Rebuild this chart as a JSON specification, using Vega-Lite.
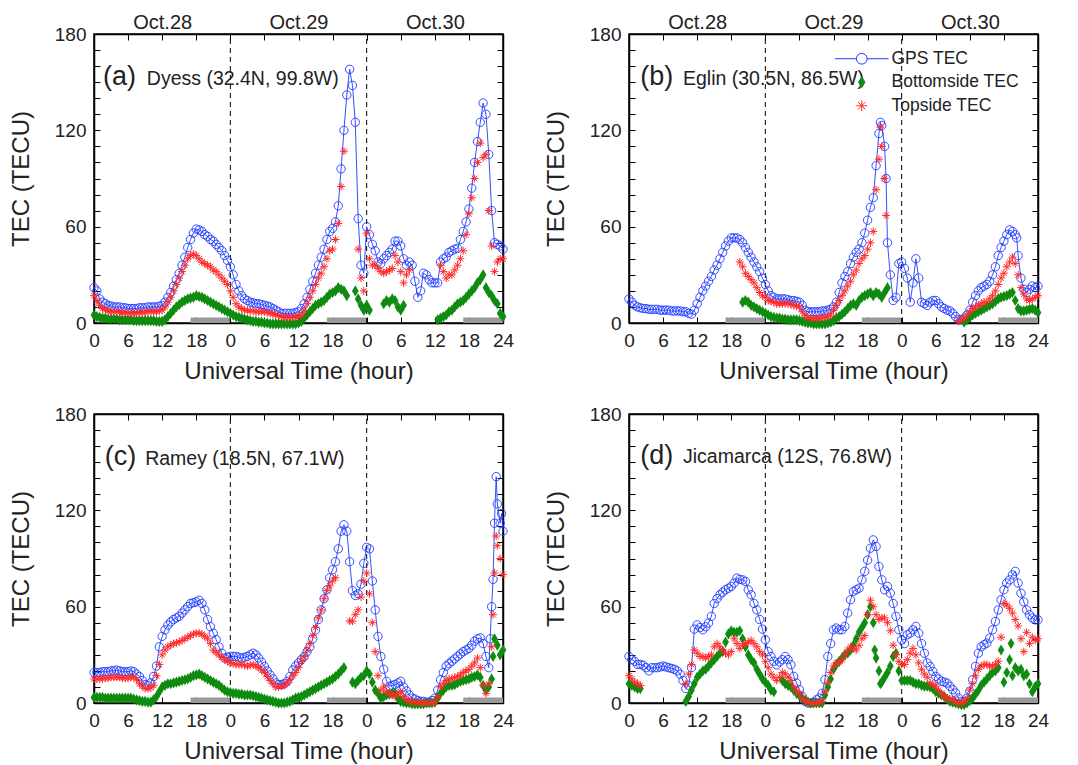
{
"$schema":"https://vega.github.io/schema/vega-lite/v6.json",
"padding":{"left":8,"top":11,"right":5,"bottom":3},
"bounds":"flush",
"columns":2,
"spacing":{"row":91,"column":126},
"config":{
 "font":"Liberation Sans",
 "view":{"stroke":"black","strokeWidth":1.5},
 "axis":{"labelFont":"Liberation Sans","labelFontSize":19,"labelColor":"#222","titleFont":"Liberation Sans","titleFontSize":24,"titleFontWeight":"normal","titleColor":"#222","tickColor":"black","domainColor":"black","domainWidth":1.5,"tickWidth":1,"tickSize":-6,"labelPadding":14,"grid":false,"labelFlush":false,"labelOverlap":false,"labelBound":false}
},
"resolve":{"legend":{"shape":"independent","fill":"independent","stroke":"independent"}},
"datasets":{
"night":[{"s":17,"e":24},{"s":41,"e":48},{"s":65,"e":72}],
"dash":[{"x":24},{"x":48}],
"A":[
{"t":0,"g":22,"b":5,"r":17},{"t":0.5,"g":20,"b":4,"r":14},{"t":1,"g":15,"b":3.5,"r":11},{"t":1.5,"g":13,"b":3,"r":9},{"t":2,"g":12,"b":3,"r":8},{"t":2.5,"g":11,"b":2.5,"r":7.5},{"t":3,"g":10.5,"b":2.5,"r":7},{"t":3.5,"g":10,"b":2.5,"r":7},{"t":4,"g":10,"b":2.5,"r":7},{"t":4.5,"g":10,"b":2,"r":6.5},{"t":5,"g":9.5,"b":2,"r":6.5},{"t":5.5,"g":9.5,"b":2,"r":6.5},{"t":6,"g":9,"b":2,"r":6},{"t":6.5,"g":9,"b":2,"r":6},{"t":7,"g":9,"b":1.5,"r":6},{"t":7.5,"g":9,"b":1.5,"r":6},{"t":8,"g":9.5,"b":1.5,"r":6.5},{"t":8.5,"g":9.5,"b":1.5,"r":6.5},{"t":9,"g":9.5,"b":1.5,"r":6.5},{"t":9.5,"g":10,"b":1.5,"r":7},{"t":10,"g":10,"b":1.5,"r":7},{"t":10.5,"g":10,"b":1.5,"r":7},{"t":11,"g":10,"b":1,"r":7},{"t":11.5,"g":10.5,"b":1,"r":7.5},
{"t":12,"g":11,"b":1,"r":8},{"t":12.5,"g":13,"b":2,"r":10},{"t":13,"g":16,"b":4,"r":13},{"t":13.5,"g":19,"b":6,"r":16},{"t":14,"g":23,"b":8,"r":20},{"t":14.5,"g":27,"b":10,"r":24},{"t":15,"g":31,"b":11.5,"r":28},{"t":15.5,"g":36,"b":13,"r":32},{"t":16,"g":41,"b":14,"r":36},{"t":16.5,"g":47,"b":15,"r":40},{"t":17,"g":52,"b":15.5,"r":42},{"t":17.5,"g":56,"b":16,"r":43},{"t":18,"g":58.5,"b":17,"r":42},{"t":18.5,"g":58,"b":16.5,"r":40},{"t":19,"g":57,"b":16,"r":38},{"t":19.5,"g":55,"b":15,"r":37},{"t":20,"g":54,"b":14,"r":36},{"t":20.5,"g":52,"b":13,"r":35},{"t":21,"g":51,"b":12,"r":33},{"t":21.5,"g":49,"b":11,"r":32},{"t":22,"g":47,"b":10,"r":30},{"t":22.5,"g":45,"b":9,"r":28},{"t":23,"g":42,"b":8,"r":26},{"t":23.5,"g":39,"b":7,"r":24},
{"t":24,"g":35,"b":6,"r":20},{"t":24.5,"g":30,"b":5,"r":16},{"t":25,"g":24,"b":4,"r":12},{"t":25.5,"g":20,"b":3.5,"r":10},{"t":26,"g":17,"b":3,"r":9},{"t":26.5,"g":15,"b":2.5,"r":8},{"t":27,"g":14,"b":2,"r":8},{"t":27.5,"g":13,"b":1.5,"r":7.5},{"t":28,"g":12.5,"b":1,"r":7.5},{"t":28.5,"g":12,"b":1,"r":7},{"t":29,"g":12,"b":0.5,"r":7},{"t":29.5,"g":11.5,"b":0.5,"r":7},{"t":30,"g":11,"b":0,"r":7},{"t":30.5,"g":10.5,"b":0,"r":6.5},{"t":31,"g":10,"b":-0.5,"r":6},{"t":31.5,"g":9,"b":-0.5,"r":5.5},{"t":32,"g":8,"b":-0.5,"r":5},{"t":32.5,"g":7,"b":-0.5,"r":4.5},{"t":33,"g":6,"b":-0.5,"r":4},{"t":33.5,"g":6,"b":-0.5,"r":3.5},{"t":34,"g":6,"b":-0.5,"r":3.5},{"t":34.5,"g":6,"b":-0.5,"r":3.5},{"t":35,"g":6,"b":-0.5,"r":3.5},{"t":35.5,"g":6.5,"b":-0.5,"r":4},
{"t":36,"g":7,"b":0,"r":4},{"t":36.5,"g":9,"b":1,"r":5},{"t":37,"g":12,"b":3,"r":8},{"t":37.5,"g":16,"b":5,"r":12},{"t":38,"g":21,"b":7,"r":16},{"t":38.5,"g":26,"b":9,"r":20},{"t":39,"g":31,"b":11,"r":24},{"t":39.5,"g":36,"b":12,"r":28},{"t":40,"g":41,"b":13,"r":31},{"t":40.5,"g":46,"b":14,"r":35},{"t":41,"g":52,"b":16,"r":40},{"t":41.5,"g":57,"b":18,"r":45},{"t":42,"g":59,"b":19,"r":46},{"t":42.5,"g":63,"b":20,"r":52},{"t":43,"g":73,"b":22,"r":62},{"t":43.5,"g":96,"b":21,"r":85},{"t":44,"g":120,"b":20,"r":107},{"t":44.5,"g":142,"b":17},{"t":45,"g":158},{"t":45.5,"g":148},{"t":46,"g":125,"b":20},{"t":46.5,"g":65,"b":15,"r":46},{"t":47,"g":36,"b":11,"r":28},{"t":47.5,"g":31,"b":8,"r":20},
{"t":48,"g":60,"b":11,"r":56},{"t":48.5,"g":55,"b":8,"r":40},{"t":49,"g":49,"r":36},{"t":49.5,"g":45,"r":36},{"t":50,"g":38,"r":34},{"t":50.5,"g":37,"r":32},{"t":51,"g":40,"b":12,"r":31},{"t":51.5,"g":42,"b":14,"r":32},{"t":52,"g":44,"b":13,"r":33},{"t":52.5,"g":46,"b":15,"r":34},{"t":53,"g":51,"b":14,"r":42},{"t":53.5,"g":51,"b":10,"r":38},{"t":54,"g":48,"b":8,"r":32},{"t":54.5,"g":40,"b":11,"r":25},{"t":55,"g":36,"r":30},{"t":55.5,"g":38,"r":33},{"t":56,"g":36},{"t":56.5,"g":26},{"t":57,"g":16},{"t":57.5,"g":20},{"t":58,"g":31},{"t":58.5,"g":30},{"t":59,"g":27},{"t":59.5,"g":25},
{"t":60,"g":25},{"t":60.5,"g":25,"b":2},{"t":61,"g":38,"b":3,"r":36},{"t":61.5,"g":40,"b":4,"r":32},{"t":62,"g":41,"b":5,"r":28},{"t":62.5,"g":44,"b":7,"r":30},{"t":63,"g":45,"b":8,"r":30},{"t":63.5,"g":46,"b":10,"r":33},{"t":64,"g":46.5,"b":12,"r":36},{"t":64.5,"g":52,"b":13,"r":40},{"t":65,"g":57,"b":14,"r":45},{"t":65.5,"g":63,"b":16,"r":55},{"t":66,"g":71,"b":18,"r":68},{"t":66.5,"g":84,"b":20,"r":78},{"t":67,"g":100,"b":22,"r":90},{"t":67.5,"g":113,"b":25,"r":100},{"t":68,"g":125,"b":27,"r":112},{"t":68.5,"g":137,"b":30,"r":103},{"t":69,"g":130,"b":22,"r":105},{"t":69.5,"g":105,"b":19,"r":70},{"t":70,"g":70,"b":17,"r":48},{"t":70.5,"g":50,"b":14,"r":32},{"t":71,"g":49,"b":12,"r":38},{"t":71.5,"g":48,"b":6,"r":40},{"t":72,"g":46,"b":4,"r":40}
],
"B":[
{"t":0,"g":15},{"t":0.5,"g":13},{"t":1,"g":11},{"t":1.5,"g":10},{"t":2,"g":9.5},{"t":2.5,"g":9},{"t":3,"g":9},{"t":3.5,"g":8.5},{"t":4,"g":8.5},{"t":4.5,"g":8.5},{"t":5,"g":8.5},{"t":5.5,"g":8},{"t":6,"g":8},{"t":6.5,"g":8},{"t":7,"g":8},{"t":7.5,"g":7.5},{"t":8,"g":7.5},{"t":8.5,"g":7.5},{"t":9,"g":7.5},{"t":9.5,"g":7},{"t":10,"g":7},{"t":10.5,"g":6},{"t":11,"g":5.5},{"t":11.5,"g":8},
{"t":12,"g":12},{"t":12.5,"g":16},{"t":13,"g":20},{"t":13.5,"g":23},{"t":14,"g":26},{"t":14.5,"g":29},{"t":15,"g":33},{"t":15.5,"g":36},{"t":16,"g":40},{"t":16.5,"g":44},{"t":17,"g":48},{"t":17.5,"g":51},{"t":18,"g":53},{"t":18.5,"g":53},{"t":19,"g":53},{"t":19.5,"g":52,"r":38},{"t":20,"g":50,"b":13,"r":35},{"t":20.5,"g":47,"b":14,"r":31},{"t":21,"g":44,"b":13,"r":29},{"t":21.5,"g":41,"b":11,"r":27},{"t":22,"g":38,"b":10,"r":25},{"t":22.5,"g":35,"b":9,"r":22},{"t":23,"g":32,"b":8,"r":19},{"t":23.5,"g":28,"b":7,"r":17},
{"t":24,"g":24,"b":6,"r":16},{"t":24.5,"g":20,"b":5,"r":14},{"t":25,"g":17,"b":4,"r":13.5},{"t":25.5,"g":16,"b":3.5,"r":13},{"t":26,"g":15,"b":3,"r":12},{"t":26.5,"g":15,"b":3,"r":12},{"t":27,"g":15,"b":2.5,"r":12},{"t":27.5,"g":15,"b":2.5,"r":12},{"t":28,"g":14.5,"b":2,"r":12},{"t":28.5,"g":14,"b":2,"r":11.5},{"t":29,"g":14,"b":2,"r":11},{"t":29.5,"g":13.5,"b":2,"r":10.5},{"t":30,"g":13,"b":1.5,"r":10},{"t":30.5,"g":11,"b":1,"r":7},{"t":31,"g":8,"b":0.5,"r":4.5},{"t":31.5,"g":7,"b":0,"r":3.5},{"t":32,"g":7,"b":0,"r":3},{"t":32.5,"g":7,"b":-0.5,"r":3},{"t":33,"g":7,"b":-0.5,"r":3},{"t":33.5,"g":7,"b":-0.5,"r":3},{"t":34,"g":7.5,"b":-0.5,"r":3.5},{"t":34.5,"g":7.5,"b":-0.5,"r":3.5},{"t":35,"g":8,"b":0,"r":4},{"t":35.5,"g":8.5,"b":0.5,"r":5},
{"t":36,"g":10,"b":1.5,"r":8},{"t":36.5,"g":13,"b":3,"r":11},{"t":37,"g":19,"b":4,"r":14},{"t":37.5,"g":25,"b":5.5,"r":17},{"t":38,"g":29,"b":7,"r":20},{"t":38.5,"g":32,"b":9,"r":23},{"t":39,"g":37,"b":11,"r":26},{"t":39.5,"g":41,"b":12,"r":30},{"t":40,"g":44,"b":11,"r":33},{"t":40.5,"g":46,"b":14,"r":37},{"t":41,"g":50,"b":16,"r":40},{"t":41.5,"g":56,"b":17,"r":42},{"t":42,"g":64,"b":18,"r":46},{"t":42.5,"g":72,"b":19,"r":50},{"t":43,"g":78,"b":17,"r":57},{"t":43.5,"g":98,"b":19,"r":83},{"t":44,"g":118,"b":18,"r":102},{"t":44.25,"g":125,"r":122},{"t":44.5,"g":123,"b":16,"r":110},{"t":45,"g":110,"b":19,"r":90},{"t":45.25,"g":90,"r":67},{"t":45.5,"g":50,"b":22},{"t":46,"g":30},{"t":46.5,"g":14},{"t":47,"g":16},{"t":47.5,"g":37},
{"t":48,"g":38},{"t":48.5,"g":34},{"t":49,"g":28},{"t":49.5,"g":13},{"t":50,"g":25},{"t":50.5,"g":40},{"t":51,"g":28},{"t":51.5,"g":13},{"t":52,"g":12},{"t":52.5,"g":11},{"t":53,"g":13},{"t":53.5,"g":14},{"t":54,"g":14},{"t":54.5,"g":12},{"t":55,"g":10},{"t":55.5,"g":9},{"t":56,"g":8},{"t":56.5,"g":7.5},{"t":57,"g":6},{"t":57.5,"g":4},{"t":58,"g":2,"r":1},{"t":58.5,"g":2,"r":2},{"t":59,"g":3,"b":0.5,"r":3},{"t":59.5,"g":5,"b":2,"r":5},
{"t":60,"g":8,"b":3.5,"r":7},{"t":60.5,"g":13,"b":5,"r":9},{"t":61,"g":17,"b":6,"r":10},{"t":61.5,"g":20,"b":7,"r":11},{"t":62,"g":22,"b":8,"r":12},{"t":62.5,"g":23,"b":9,"r":13},{"t":63,"g":24,"b":10,"r":13},{"t":63.5,"g":26,"b":11,"r":15},{"t":64,"g":30,"b":12,"r":17},{"t":64.5,"g":35,"b":13.5,"r":20},{"t":65,"g":42,"b":15,"r":24},{"t":65.5,"g":47,"b":16,"r":28},{"t":66,"g":51,"b":16.5,"r":31},{"t":66.5,"g":55,"b":17,"r":35},{"t":67,"g":58,"b":18,"r":38},{"t":67.5,"g":57,"b":19,"r":41},{"t":68,"g":55,"b":14,"r":37},{"t":68.25,"g":53},{"t":68.5,"g":42,"b":9,"r":30},{"t":69,"g":28,"b":7.5,"r":22},{"t":69.5,"g":21,"b":7.5,"r":18},{"t":70,"g":19,"b":8,"r":15},{"t":70.5,"g":21,"b":8.5,"r":14},{"t":71,"g":23,"b":9,"r":15},{"t":71.5,"g":22,"b":8,"r":16},{"t":72,"g":23,"b":6.5,"r":17}
],
"C":[
{"t":0,"g":19,"b":3.5,"r":15},{"t":0.5,"g":19,"b":3.5,"r":15},{"t":1,"g":19,"b":3.5,"r":15},{"t":1.5,"g":19.5,"b":3.5,"r":15},{"t":2,"g":19.5,"b":3,"r":15.5},{"t":2.5,"g":19.5,"b":3,"r":15.5},{"t":3,"g":20,"b":3,"r":16},{"t":3.5,"g":20,"b":3,"r":16},{"t":4,"g":20.5,"b":3,"r":16},{"t":4.5,"g":20,"b":3,"r":16},{"t":5,"g":19.5,"b":3,"r":15.5},{"t":5.5,"g":19.5,"b":3,"r":15.5},{"t":6,"g":19.5,"b":3,"r":15.5},{"t":6.5,"g":20,"b":3,"r":16},{"t":7,"g":19.5,"b":2.5,"r":16},{"t":7.5,"g":18,"b":2,"r":14.5},{"t":8,"g":16.5,"b":1.5,"r":12},{"t":8.5,"g":14,"b":1,"r":10.5},{"t":9,"g":11.5,"b":1,"r":9},{"t":9.5,"g":11,"b":0.5,"r":9},{"t":10,"g":12.5,"b":0.5,"r":9.5},{"t":10.5,"g":16.5,"b":2,"r":11},{"t":11,"g":23,"b":4,"r":17},{"t":11.5,"g":35,"b":7,"r":24},
{"t":12,"g":41.5,"b":10,"r":30},{"t":12.5,"g":45.5,"b":11,"r":33},{"t":13,"g":48.5,"b":12,"r":35},{"t":13.5,"g":50.5,"b":12,"r":36},{"t":14,"g":52,"b":12.5,"r":37},{"t":14.5,"g":53,"b":13,"r":37.5},{"t":15,"g":54,"b":13.5,"r":38},{"t":15.5,"g":56,"b":14,"r":39},{"t":16,"g":58,"b":14.5,"r":40},{"t":16.5,"g":60,"b":15,"r":41},{"t":17,"g":62,"b":16,"r":42},{"t":17.5,"g":62.5,"b":17,"r":43},{"t":18,"g":63,"b":17.5,"r":43.5},{"t":18.5,"g":64,"b":18,"r":43.5},{"t":19,"g":62,"b":17,"r":43},{"t":19.5,"g":58,"b":16,"r":41.5},{"t":20,"g":52,"b":15,"r":40},{"t":20.5,"g":47.5,"b":14,"r":37},{"t":21,"g":43.5,"b":13,"r":33},{"t":21.5,"g":39.5,"b":12,"r":31.5},{"t":22,"g":35,"b":11,"r":30},{"t":22.5,"g":31,"b":9.5,"r":28.5},{"t":23,"g":28,"b":8,"r":27},{"t":23.5,"g":28.5,"b":7,"r":26},
{"t":24,"g":29,"b":6.5,"r":25},{"t":24.5,"g":29,"b":6,"r":24.5},{"t":25,"g":29,"b":6,"r":24},{"t":25.5,"g":28.5,"b":5.5,"r":24},{"t":26,"g":28,"b":5.5,"r":24},{"t":26.5,"g":28.5,"b":5,"r":23.5},{"t":27,"g":29,"b":5,"r":23},{"t":27.5,"g":30,"b":5,"r":23.5},{"t":28,"g":31,"b":4.5,"r":24},{"t":28.5,"g":30,"b":4,"r":23},{"t":29,"g":28,"b":3.5,"r":22},{"t":29.5,"g":25.5,"b":3,"r":20.5},{"t":30,"g":22.8,"b":2.5,"r":19},{"t":30.5,"g":20,"b":2,"r":16.5},{"t":31,"g":17.5,"b":1.5,"r":14},{"t":31.5,"g":15,"b":1,"r":12},{"t":32,"g":12.5,"b":0.5,"r":10},{"t":32.5,"g":11.5,"b":0,"r":10},{"t":33,"g":11.5,"b":0,"r":10.5},{"t":33.5,"g":12,"b":0,"r":11},{"t":34,"g":13.5,"b":0.5,"r":12.5},{"t":34.5,"g":16.5,"b":1,"r":14.5},{"t":35,"g":20.5,"b":2,"r":17},{"t":35.5,"g":23,"b":3,"r":19},
{"t":36,"g":25,"b":3.5,"r":22},{"t":36.5,"g":27,"b":4,"r":26},{"t":37,"g":29,"b":5,"r":29},{"t":37.5,"g":32,"b":6,"r":33},{"t":38,"g":35,"b":7,"r":37},{"t":38.5,"g":40,"b":8,"r":42},{"t":39,"g":45.5,"b":9,"r":47},{"t":39.5,"g":52,"b":10,"r":53},{"t":40,"g":58,"b":11,"r":58},{"t":40.5,"g":65,"b":12,"r":65},{"t":41,"g":70.5,"b":13,"r":70},{"t":41.5,"g":78,"b":14,"r":73},{"t":42,"g":83,"b":15,"r":76},{"t":42.5,"g":88,"b":16.5,"r":78},{"t":43,"g":96,"b":18},{"t":43.5,"g":107,"b":20},{"t":44,"g":111,"b":22},{"t":44.5,"g":107},{"t":45,"g":88,"r":51},{"t":45.5,"g":70,"b":13,"r":51},{"t":46,"g":67,"b":12,"r":55},{"t":46.5,"g":68,"b":14,"r":58},{"t":47,"g":74,"b":16,"r":66},{"t":47.5,"g":87,"b":17,"r":76},
{"t":48,"g":97,"b":20,"r":81},{"t":48.5,"g":96,"b":18,"r":68},{"t":49,"g":76,"b":13,"r":50},{"t":49.5,"g":58,"b":8,"r":32},{"t":50,"g":41.5,"b":6,"r":17},{"t":50.5,"g":29,"b":3,"r":8},{"t":51,"g":21,"b":4,"r":10},{"t":51.5,"g":13.5,"b":5,"r":7},{"t":52,"g":10.5,"b":5.5,"r":6},{"t":52.5,"g":11,"b":6,"r":5},{"t":53,"g":11.5,"b":6,"r":4},{"t":53.5,"g":12.5,"b":3,"r":6},{"t":54,"g":13.5,"b":1,"r":7},{"t":54.5,"g":10,"b":0.5,"r":4},{"t":55,"g":7.5,"b":0,"r":2},{"t":55.5,"g":5,"b":0,"r":1},{"t":56,"g":3,"b":-0.5,"r":1},{"t":56.5,"g":2.5,"b":-0.5,"r":0.5},{"t":57,"g":1.5,"b":-0.5,"r":0.5},{"t":57.5,"g":1,"b":-0.5,"r":0},{"t":58,"g":1,"b":-0.5,"r":0},{"t":58.5,"g":0.5,"b":0,"r":0},{"t":59,"g":0.5,"b":0,"r":0},{"t":59.5,"g":1.5,"b":0,"r":0},
{"t":60,"g":3,"b":0.5,"r":0.5},{"t":60.5,"g":8,"b":3,"r":4},{"t":61,"g":14.5,"b":6,"r":10},{"t":61.5,"g":19,"b":8,"r":12},{"t":62,"g":23,"b":10,"r":14},{"t":62.5,"g":24.5,"b":11,"r":15},{"t":63,"g":26,"b":11,"r":15},{"t":63.5,"g":27.5,"b":11.5,"r":16},{"t":64,"g":29,"b":12.5,"r":16.5},{"t":64.5,"g":30.5,"b":13.5,"r":17.5},{"t":65,"g":32,"b":14,"r":19},{"t":65.5,"g":33,"b":14.5,"r":20},{"t":66,"g":34,"b":15,"r":21},{"t":66.5,"g":36,"b":16,"r":23},{"t":67,"g":38.5,"b":16.5,"r":25},{"t":67.5,"g":40,"b":17.5,"r":28},{"t":68,"g":40.5,"b":16,"r":22},{"t":68.5,"g":37,"b":11,"r":11},{"t":69,"g":29,"b":8,"r":6},{"t":69.5,"g":22,"b":10,"r":12},{"t":69.75,"g":40},{"t":70,"g":60,"b":15,"r":35},{"t":70.25,"g":77,"b":29,"r":55},{"t":70.5,"g":112,"b":40,"r":81},{"t":70.8,"g":141,"r":104},{"t":71,"g":124,"b":36,"r":98},{"t":71.5,"g":112,"b":30,"r":90},{"t":71.75,"g":118},{"t":72,"g":107,"b":33,"r":80}
],
"D":[
{"t":0,"g":29,"b":12,"r":17},{"t":0.5,"g":27,"b":11,"r":15},{"t":1,"g":26,"b":10,"r":13},{"t":1.5,"g":24,"b":9,"r":12},{"t":2,"g":24,"b":9,"r":11},{"t":2.5,"g":23.5},{"t":3,"g":22},{"t":3.5,"g":20},{"t":4,"g":22},{"t":4.5,"g":22},{"t":5,"g":22},{"t":5.5,"g":22.5},{"t":6,"g":23},{"t":6.5,"g":22.5},{"t":7,"g":22},{"t":7.5,"g":21.5},{"t":8,"g":21},{"t":8.5,"g":20},{"t":9,"g":18},{"t":9.5,"g":14},{"t":10,"g":9,"b":1,"r":12},{"t":10.5,"g":11,"b":4,"r":18},{"t":11,"g":22,"b":8,"r":24},{"t":11.5,"g":46,"b":12,"r":33},
{"t":12,"g":48.7,"b":16,"r":31},{"t":12.5,"g":47,"b":18,"r":29},{"t":13,"g":45.6,"b":20,"r":29},{"t":13.5,"g":47.5,"b":21,"r":28},{"t":14,"g":49.8,"b":23,"r":29},{"t":14.5,"g":54,"b":25,"r":30},{"t":15,"g":62,"b":27,"r":35},{"t":15.5,"g":65,"b":29,"r":37},{"t":16,"g":67.4,"b":31,"r":35},{"t":16.5,"g":69,"b":32,"r":33},{"t":17,"g":70.5,"b":38,"r":31},{"t":17.5,"g":71.5,"b":43,"r":30},{"t":18,"g":72.6,"b":45,"r":32},{"t":18.5,"g":74.7,"b":44,"r":40},{"t":19,"g":77.8,"b":44,"r":37},{"t":19.5,"g":77,"b":45,"r":34},{"t":20,"g":76.7,"b":40,"r":36},{"t":20.5,"g":75.7,"b":35,"r":37},{"t":21,"g":70.5,"b":30,"r":38},{"t":21.5,"g":67.4,"b":27,"r":39},{"t":22,"g":62,"b":25,"r":37},{"t":22.5,"g":58,"b":21,"r":35},{"t":23,"g":52,"b":18,"r":32},{"t":23.5,"g":46,"b":15,"r":30},
{"t":24,"g":39.4,"b":13,"r":26},{"t":24.5,"g":32,"b":11,"r":22},{"t":25,"g":29,"b":8,"r":18},{"t":25.5,"g":26,"b":7,"r":16},{"t":26,"g":23.8,"r":14},{"t":26.5,"g":25.5,"r":16},{"t":27,"g":27,"b":14,"r":19},{"t":27.5,"g":29,"b":12,"r":18},{"t":28,"g":27,"b":11,"r":16},{"t":28.5,"g":23.8,"b":10,"r":14},{"t":29,"g":16.6,"b":8,"r":10},{"t":29.5,"g":12.4,"b":6,"r":7.5},{"t":30,"g":8.3,"b":4.5,"r":6},{"t":30.5,"g":4.1,"b":3,"r":3},{"t":31,"g":1,"b":1.5,"r":1.5},{"t":31.5,"g":0,"b":0.5,"r":0.5},{"t":32,"g":0,"b":0,"r":0},{"t":32.5,"g":0.5,"b":0,"r":0},{"t":33,"g":2,"b":0,"r":0},{"t":33.5,"g":3,"b":0,"r":0.5},{"t":34,"g":6,"b":0,"r":1},{"t":34.5,"g":14.5,"b":5,"r":7},{"t":35,"g":29,"b":10,"r":13},{"t":35.5,"g":37,"b":15,"r":19},
{"t":36,"g":45.6,"b":21,"r":23},{"t":36.5,"g":46.7,"b":24,"r":25},{"t":37,"g":45.6,"b":26,"r":25},{"t":37.5,"g":45.6,"b":28,"r":27},{"t":38,"g":47.7,"b":30,"r":30},{"t":38.5,"g":56,"b":31,"r":33},{"t":39,"g":64.3,"b":33,"r":35},{"t":39.5,"g":69.5,"b":36,"r":34},{"t":40,"g":70.5,"b":40,"r":33},{"t":40.5,"g":71.5,"b":44,"r":36},{"t":41,"g":76.7,"b":47,"r":40},{"t":41.5,"g":82,"b":50,"r":42},{"t":42,"g":89,"b":55,"r":55},{"t":42.5,"g":96.4,"b":60,"r":64},{"t":43,"g":101.6,"b":50,"r":60},{"t":43.25,"b":33},{"t":43.5,"g":97.5,"b":28,"r":55},{"t":44,"g":85,"b":20,"r":52},{"t":44.25,"b":12},{"t":44.5,"g":76.7,"b":13,"r":53},{"t":45,"g":70.5,"b":16,"r":53},{"t":45.5,"g":72.6,"b":19,"r":50},{"t":46,"g":68.4,"b":23,"r":45},{"t":46.5,"g":62,"b":29,"r":36},{"t":47,"g":54,"b":31,"r":30},{"t":47.5,"g":45.6,"b":20,"r":26},
{"t":48,"g":39.4,"b":14,"r":24},{"t":48.5,"g":37,"b":14,"r":24},{"t":49,"g":42.5,"b":14,"r":27},{"t":49.5,"g":43.5,"b":14,"r":31},{"t":50,"g":45.6,"b":13,"r":34},{"t":50.5,"g":47.7,"b":12,"r":30},{"t":51,"g":43.5,"b":12,"r":25},{"t":51.5,"g":37,"b":11,"r":21},{"t":52,"g":31,"b":10.5,"r":18},{"t":52.5,"g":25,"b":10.5,"r":16},{"t":53,"g":22.8,"b":10,"r":12.5},{"t":53.5,"g":19.7,"b":9,"r":11.5},{"t":54,"g":16.6,"b":7,"r":10.5},{"t":54.5,"g":15,"b":6,"r":8},{"t":55,"g":13.5,"b":5,"r":6},{"t":55.5,"g":13,"b":4,"r":4},{"t":56,"g":12.4,"b":2.5,"r":3},{"t":56.5,"g":10.4,"b":1,"r":2.5},{"t":57,"g":8.3,"b":0.5,"r":2},{"t":57.5,"g":6.2,"b":0,"r":1},{"t":58,"g":3.1,"b":-0.5,"r":0},{"t":58.5,"g":1,"b":-1,"r":0},{"t":59,"g":1,"b":-1,"r":1},{"t":59.5,"g":3.1,"b":0,"r":3},
{"t":60,"g":7.3,"b":1.5,"r":8},{"t":60.5,"g":14.5,"b":3,"r":12},{"t":61,"g":22.8,"b":5.5,"r":17},{"t":61.5,"g":31,"b":8,"r":21},{"t":62,"g":35,"b":11,"r":23},{"t":62.5,"g":36.3,"b":13,"r":24},{"t":63,"g":37.3,"b":15,"r":24},{"t":63.5,"g":40.4,"b":17,"r":23},{"t":64,"g":45.6,"b":19,"r":23},{"t":64.5,"g":50.8,"b":20,"r":24},{"t":65,"g":58,"b":22,"r":26},{"t":65.5,"g":64.3,"b":33,"r":41},{"t":66,"g":70.5,"b":13,"r":62},{"t":66.5,"g":74.7,"b":19,"r":61},{"t":67,"g":76.7,"b":27,"r":59},{"t":67.25,"b":37},{"t":67.5,"g":79.8,"b":17,"r":56},{"t":68,"g":82,"b":22,"r":52},{"t":68.5,"g":74.7,"b":20,"r":48},{"t":69,"g":68.4,"b":21,"r":40},{"t":69.5,"g":63,"b":17,"r":32},{"t":70,"g":58,"b":18,"r":44},{"t":70.5,"g":55,"b":12,"r":37},{"t":71,"g":52.9,"b":7,"r":41},{"t":71.5,"g":51.8,"b":10,"r":39},{"t":72,"g":51.8,"b":12,"r":40}
]
},
"concat":[
{
"width":409,"height":289,
"resolve":{"axis":{"x":"independent","y":"independent"}},
"layer":[
{"data":{"name":"night"},"mark":{"type":"rect","color":"#9a9a9a"},
 "encoding":{
  "x":{"field":"s","type":"quantitative","scale":{"domain":[0,72],"nice":false,"zero":false},"axis":{"orient":"bottom","values":[0,6,12,18,24,30,36,42,48,54,60,66,72],"labelExpr":"datum.value == 72 ? '24' : '' + (datum.value % 24)","title":"Universal Time (hour)","titlePadding":9}},
  "x2":{"field":"e"},
  "y":{"datum":0,"type":"quantitative","scale":{"domain":[0,180],"nice":false,"zero":false},"axis":{"orient":"left","values":[0,10,20,30,40,50,60,70,80,90,100,110,120,130,140,150,160,170,180],"labelExpr":"datum.value % 60 == 0 ? datum.label : ''","title":"TEC (TECU)","titlePadding":21}},
  "y2":{"datum":3.5}}},
{"data":{"name":"dash"},"mark":{"type":"rule","color":"black","strokeDash":[5,4],"strokeWidth":1},
 "encoding":{
  "x":{"field":"x","type":"quantitative","axis":{"orient":"top","values":[0,6,12,18,24,30,36,42,48,54,60,66,72],"labelExpr":"datum.value == 12 ? 'Oct.28' : datum.value == 36 ? 'Oct.29' : datum.value == 60 ? 'Oct.30' : ''","labelFontSize":20,"labelPadding":8,"title":null}},
  "y":{"datum":0,"type":"quantitative","axis":{"orient":"right","values":[0,10,20,30,40,50,60,70,80,90,100,110,120,130,140,150,160,170,180],"labels":false,"title":null}},
  "y2":{"datum":180}}},
{"data":{"name":"A"},"mark":{"type":"line","color":"#1f3bff","strokeWidth":0.9,"invalid":"filter"},
 "encoding":{"x":{"field":"t","type":"quantitative","axis":null},"y":{"field":"g","type":"quantitative","axis":null}}},
{"data":{"name":"A"},"mark":{"type":"point","shape":"circle","filled":false,"color":"#1f3bff","size":70,"strokeWidth":0.9,"opacity":1},
 "encoding":{"x":{"field":"t","type":"quantitative","axis":null},"y":{"field":"g","type":"quantitative","axis":null}}},
{"data":{"name":"A"},"mark":{"type":"point","shape":"M0,-1L0.6,0L0,1L-0.6,0Z","filled":true,"color":"#0f8c0f","size":125,"opacity":1},
 "encoding":{"x":{"field":"t","type":"quantitative","axis":null},"y":{"field":"b","type":"quantitative","axis":null}}},
{"data":{"name":"A"},"mark":{"type":"point","shape":"M-1,0L1,0M0,-1L0,1M-0.7,-0.7L0.7,0.7M-0.7,0.7L0.7,-0.7","filled":false,"color":"#ff2a2a","size":64,"strokeWidth":1,"opacity":1},
 "encoding":{"x":{"field":"t","type":"quantitative","axis":null},"y":{"field":"r","type":"quantitative","axis":null}}},
{"data":{"values":[{"x":1.6,"y":153,"s":"(a)"}]},"mark":{"type":"text","align":"left","baseline":"middle","fontSize":27,"color":"#222"},
 "encoding":{"x":{"field":"x","type":"quantitative","axis":null},"y":{"field":"y","type":"quantitative","axis":null},"text":{"field":"s"}}},
{"data":{"values":[{"x":9.3,"y":152,"s":"Dyess (32.4N, 99.8W)"}]},"mark":{"type":"text","align":"left","baseline":"middle","fontSize":19.5,"color":"#222"},
 "encoding":{"x":{"field":"x","type":"quantitative","axis":null},"y":{"field":"y","type":"quantitative","axis":null},"text":{"field":"s"}}}
]},
{
"width":409,"height":289,
"resolve":{"axis":{"x":"independent","y":"independent"}},
"layer":[
{"data":{"name":"night"},"mark":{"type":"rect","color":"#9a9a9a"},
 "encoding":{
  "x":{"field":"s","type":"quantitative","scale":{"domain":[0,72],"nice":false,"zero":false},"axis":{"orient":"bottom","values":[0,6,12,18,24,30,36,42,48,54,60,66,72],"labelExpr":"datum.value == 72 ? '24' : '' + (datum.value % 24)","title":"Universal Time (hour)","titlePadding":9}},
  "x2":{"field":"e"},
  "y":{"datum":0,"type":"quantitative","scale":{"domain":[0,180],"nice":false,"zero":false},"axis":{"orient":"left","values":[0,10,20,30,40,50,60,70,80,90,100,110,120,130,140,150,160,170,180],"labelExpr":"datum.value % 60 == 0 ? datum.label : ''","title":"TEC (TECU)","titlePadding":21}},
  "y2":{"datum":3.5}}},
{"data":{"name":"dash"},"mark":{"type":"rule","color":"black","strokeDash":[5,4],"strokeWidth":1},
 "encoding":{
  "x":{"field":"x","type":"quantitative","axis":{"orient":"top","values":[0,6,12,18,24,30,36,42,48,54,60,66,72],"labelExpr":"datum.value == 12 ? 'Oct.28' : datum.value == 36 ? 'Oct.29' : datum.value == 60 ? 'Oct.30' : ''","labelFontSize":20,"labelPadding":8,"title":null}},
  "y":{"datum":0,"type":"quantitative","axis":{"orient":"right","values":[0,10,20,30,40,50,60,70,80,90,100,110,120,130,140,150,160,170,180],"labels":false,"title":null}},
  "y2":{"datum":180}}},
{"data":{"name":"B"},"mark":{"type":"line","color":"#1f3bff","strokeWidth":0.9,"invalid":"filter"},
 "encoding":{"x":{"field":"t","type":"quantitative","axis":null},"y":{"field":"g","type":"quantitative","axis":null}}},
{"data":{"name":"B"},"mark":{"type":"point","shape":"circle","filled":false,"color":"#1f3bff","size":70,"strokeWidth":0.9,"opacity":1},
 "encoding":{"x":{"field":"t","type":"quantitative","axis":null},"y":{"field":"g","type":"quantitative","axis":null}}},
{"data":{"name":"B"},"mark":{"type":"point","shape":"M0,-1L0.6,0L0,1L-0.6,0Z","filled":true,"color":"#0f8c0f","size":125,"opacity":1},
 "encoding":{"x":{"field":"t","type":"quantitative","axis":null},"y":{"field":"b","type":"quantitative","axis":null}}},
{"data":{"name":"B"},"mark":{"type":"point","shape":"M-1,0L1,0M0,-1L0,1M-0.7,-0.7L0.7,0.7M-0.7,0.7L0.7,-0.7","filled":false,"color":"#ff2a2a","size":64,"strokeWidth":1,"opacity":1},
 "encoding":{"x":{"field":"t","type":"quantitative","axis":null},"y":{"field":"r","type":"quantitative","axis":null}}},
{"data":{"values":[{"k":"GPS TEC"},{"k":"Bottomside TEC"},{"k":"Topside TEC"}]},
 "transform":[{"filter":"false"}],
 "mark":{"type":"point","filled":false,"size":115,"strokeWidth":1},
 "encoding":{
  "shape":{"field":"k","type":"nominal","scale":{"domain":["GPS TEC","Bottomside TEC","Topside TEC"],"range":["M-5,0L-1,0M1,0L5,0M-1,0A1,1,0,1,0,1,0A1,1,0,1,0,-1,0","M0,-1L0.6,0L0,1L-0.6,0Z","M-1,0L1,0M0,-1L0,1M-0.7,-0.7L0.7,0.7M-0.7,0.7L0.7,-0.7"]},
   "legend":{"title":null,"orient":"none","legendX":224,"legendY":16,"padding":0,"labelFont":"Liberation Sans","labelFontSize":17.5,"labelColor":"#222","labelOffset":21,"rowPadding":4.5,"symbolSize":115,"symbolStrokeWidth":1,"symbolOpacity":1}},
  "fill":{"field":"k","type":"nominal","scale":{"domain":["GPS TEC","Bottomside TEC","Topside TEC"],"range":["transparent","#0f8c0f","transparent"]}},
  "stroke":{"field":"k","type":"nominal","scale":{"domain":["GPS TEC","Bottomside TEC","Topside TEC"],"range":["#1f3bff","#0f8c0f","#ff2a2a"]}}}},
{"data":{"values":[{"x":2.0,"y":153,"s":"(b)"}]},"mark":{"type":"text","align":"left","baseline":"middle","fontSize":27,"color":"#222"},
 "encoding":{"x":{"field":"x","type":"quantitative","axis":null},"y":{"field":"y","type":"quantitative","axis":null},"text":{"field":"s"}}},
{"data":{"values":[{"x":9.5,"y":152,"s":"Eglin (30.5N, 86.5W)"}]},"mark":{"type":"text","align":"left","baseline":"middle","fontSize":19.5,"color":"#222"},
 "encoding":{"x":{"field":"x","type":"quantitative","axis":null},"y":{"field":"y","type":"quantitative","axis":null},"text":{"field":"s"}}}
]},
{
"width":409,"height":289,
"resolve":{"axis":{"x":"independent","y":"independent"}},
"layer":[
{"data":{"name":"night"},"mark":{"type":"rect","color":"#9a9a9a"},
 "encoding":{
  "x":{"field":"s","type":"quantitative","scale":{"domain":[0,72],"nice":false,"zero":false},"axis":{"orient":"bottom","values":[0,6,12,18,24,30,36,42,48,54,60,66,72],"labelExpr":"datum.value == 72 ? '24' : '' + (datum.value % 24)","title":"Universal Time (hour)","titlePadding":9}},
  "x2":{"field":"e"},
  "y":{"datum":0,"type":"quantitative","scale":{"domain":[0,180],"nice":false,"zero":false},"axis":{"orient":"left","values":[0,10,20,30,40,50,60,70,80,90,100,110,120,130,140,150,160,170,180],"labelExpr":"datum.value % 60 == 0 ? datum.label : ''","title":"TEC (TECU)","titlePadding":21}},
  "y2":{"datum":3.5}}},
{"data":{"name":"dash"},"mark":{"type":"rule","color":"black","strokeDash":[5,4],"strokeWidth":1},
 "encoding":{
  "x":{"field":"x","type":"quantitative","axis":{"orient":"top","values":[0,6,12,18,24,30,36,42,48,54,60,66,72],"labels":false,"title":null}},
  "y":{"datum":0,"type":"quantitative","axis":{"orient":"right","values":[0,10,20,30,40,50,60,70,80,90,100,110,120,130,140,150,160,170,180],"labels":false,"title":null}},
  "y2":{"datum":180}}},
{"data":{"name":"C"},"mark":{"type":"line","color":"#1f3bff","strokeWidth":0.9,"invalid":"filter"},
 "encoding":{"x":{"field":"t","type":"quantitative","axis":null},"y":{"field":"g","type":"quantitative","axis":null}}},
{"data":{"name":"C"},"mark":{"type":"point","shape":"circle","filled":false,"color":"#1f3bff","size":70,"strokeWidth":0.9,"opacity":1},
 "encoding":{"x":{"field":"t","type":"quantitative","axis":null},"y":{"field":"g","type":"quantitative","axis":null}}},
{"data":{"name":"C"},"mark":{"type":"point","shape":"M0,-1L0.6,0L0,1L-0.6,0Z","filled":true,"color":"#0f8c0f","size":125,"opacity":1},
 "encoding":{"x":{"field":"t","type":"quantitative","axis":null},"y":{"field":"b","type":"quantitative","axis":null}}},
{"data":{"name":"C"},"mark":{"type":"point","shape":"M-1,0L1,0M0,-1L0,1M-0.7,-0.7L0.7,0.7M-0.7,0.7L0.7,-0.7","filled":false,"color":"#ff2a2a","size":64,"strokeWidth":1,"opacity":1},
 "encoding":{"x":{"field":"t","type":"quantitative","axis":null},"y":{"field":"r","type":"quantitative","axis":null}}},
{"data":{"values":[{"x":1.9,"y":153,"s":"(c)"}]},"mark":{"type":"text","align":"left","baseline":"middle","fontSize":27,"color":"#222"},
 "encoding":{"x":{"field":"x","type":"quantitative","axis":null},"y":{"field":"y","type":"quantitative","axis":null},"text":{"field":"s"}}},
{"data":{"values":[{"x":9.0,"y":152,"s":"Ramey (18.5N, 67.1W)"}]},"mark":{"type":"text","align":"left","baseline":"middle","fontSize":19.5,"color":"#222"},
 "encoding":{"x":{"field":"x","type":"quantitative","axis":null},"y":{"field":"y","type":"quantitative","axis":null},"text":{"field":"s"}}}
]},
{
"width":409,"height":289,
"resolve":{"axis":{"x":"independent","y":"independent"}},
"layer":[
{"data":{"name":"night"},"mark":{"type":"rect","color":"#9a9a9a"},
 "encoding":{
  "x":{"field":"s","type":"quantitative","scale":{"domain":[0,72],"nice":false,"zero":false},"axis":{"orient":"bottom","values":[0,6,12,18,24,30,36,42,48,54,60,66,72],"labelExpr":"datum.value == 72 ? '24' : '' + (datum.value % 24)","title":"Universal Time (hour)","titlePadding":9}},
  "x2":{"field":"e"},
  "y":{"datum":0,"type":"quantitative","scale":{"domain":[0,180],"nice":false,"zero":false},"axis":{"orient":"left","values":[0,10,20,30,40,50,60,70,80,90,100,110,120,130,140,150,160,170,180],"labelExpr":"datum.value % 60 == 0 ? datum.label : ''","title":"TEC (TECU)","titlePadding":21}},
  "y2":{"datum":3.5}}},
{"data":{"name":"dash"},"mark":{"type":"rule","color":"black","strokeDash":[5,4],"strokeWidth":1},
 "encoding":{
  "x":{"field":"x","type":"quantitative","axis":{"orient":"top","values":[0,6,12,18,24,30,36,42,48,54,60,66,72],"labels":false,"title":null}},
  "y":{"datum":0,"type":"quantitative","axis":{"orient":"right","values":[0,10,20,30,40,50,60,70,80,90,100,110,120,130,140,150,160,170,180],"labels":false,"title":null}},
  "y2":{"datum":180}}},
{"data":{"name":"D"},"mark":{"type":"line","color":"#1f3bff","strokeWidth":0.9,"invalid":"filter"},
 "encoding":{"x":{"field":"t","type":"quantitative","axis":null},"y":{"field":"g","type":"quantitative","axis":null}}},
{"data":{"name":"D"},"mark":{"type":"point","shape":"circle","filled":false,"color":"#1f3bff","size":70,"strokeWidth":0.9,"opacity":1},
 "encoding":{"x":{"field":"t","type":"quantitative","axis":null},"y":{"field":"g","type":"quantitative","axis":null}}},
{"data":{"name":"D"},"mark":{"type":"point","shape":"M0,-1L0.6,0L0,1L-0.6,0Z","filled":true,"color":"#0f8c0f","size":125,"opacity":1},
 "encoding":{"x":{"field":"t","type":"quantitative","axis":null},"y":{"field":"b","type":"quantitative","axis":null}}},
{"data":{"name":"D"},"mark":{"type":"point","shape":"M-1,0L1,0M0,-1L0,1M-0.7,-0.7L0.7,0.7M-0.7,0.7L0.7,-0.7","filled":false,"color":"#ff2a2a","size":64,"strokeWidth":1,"opacity":1},
 "encoding":{"x":{"field":"t","type":"quantitative","axis":null},"y":{"field":"r","type":"quantitative","axis":null}}},
{"data":{"values":[{"x":2.0,"y":154,"s":"(d)"}]},"mark":{"type":"text","align":"left","baseline":"middle","fontSize":27,"color":"#222"},
 "encoding":{"x":{"field":"x","type":"quantitative","axis":null},"y":{"field":"y","type":"quantitative","axis":null},"text":{"field":"s"}}},
{"data":{"values":[{"x":9.5,"y":153,"s":"Jicamarca (12S, 76.8W)"}]},"mark":{"type":"text","align":"left","baseline":"middle","fontSize":19.5,"color":"#222"},
 "encoding":{"x":{"field":"x","type":"quantitative","axis":null},"y":{"field":"y","type":"quantitative","axis":null},"text":{"field":"s"}}}
]}
]
}
